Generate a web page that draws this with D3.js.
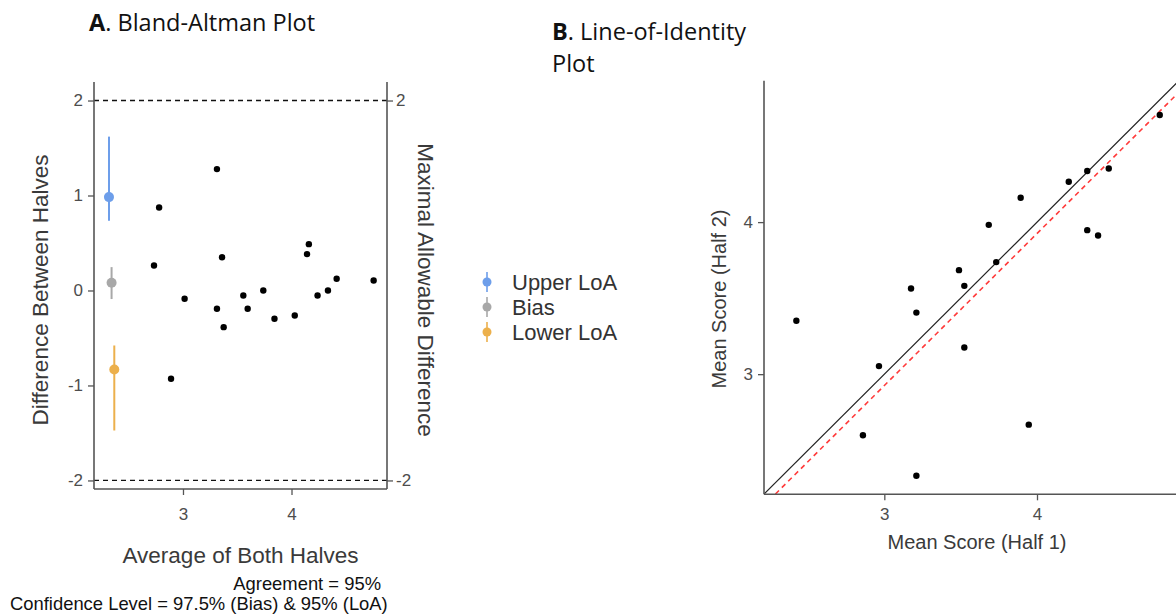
<!DOCTYPE html>
<html>
<head>
<meta charset="utf-8">
<script src="https://cdn.jsdelivr.net/npm/d3@7"></script>
<style>
  body { margin: 0; background: #fff; }
  text { font-family: "Liberation Sans", Arial, sans-serif; }
  .panel-title { font-family: "Open Sans", "Liberation Sans", sans-serif; font-size: 23.5px; fill: #111; }
  .axis-title { font-size: 22.5px; fill: #3a3a3a; }
</style>
</head>
<body>
<div id="chart"></div>
<script>
// ---- data ----
// A. Bland-Altman: average of both halves / difference (half1 - half2)
var baAvg  = [2.733, 2.78, 3.313, 3.36, 4.143, 4.16, 4.416, 4.757, 4.336, 3.74,
              3.015, 3.313, 3.375, 3.556, 3.596, 3.843, 4.03, 4.24, 2.89];
var baDiff = [0.263, 0.874, 1.278, 0.35, 0.383, 0.488, 0.123, 0.105, 0.0, 0.0,
              -0.087, -0.193, -0.386, -0.052, -0.193, -0.298, -0.263, -0.052, -0.93];

// limits of agreement with their confidence intervals
var loaLabels = ["Upper LoA", "Bias", "Lower LoA"];
var loaX      = [2.318, 2.342, 2.367];
var loaEst    = [0.983, 0.081, -0.832];
var loaLow    = [0.734, -0.09, -1.474];
var loaHigh   = [1.62, 0.246, -0.579];
var loaColors = ["#6d9eea", "#a8a8a8", "#ecb04c"];
var maxAllowable = [2, -2];

// B. line of identity: mean score half 1 / half 2
var half1 = [4.804, 4.329, 4.47, 4.208, 3.893, 3.684, 4.329, 4.4, 3.733, 3.489,
             3.175, 3.524, 2.424, 3.21, 3.524, 2.965, 3.946, 2.86, 3.21];
var half2 = [4.704, 4.336, 4.353, 4.265, 4.16, 3.982, 3.947, 3.912, 3.737, 3.684,
             3.563, 3.581, 3.351, 3.405, 3.175, 3.053, 2.668, 2.598, 2.332];
var biasShift = 0.075;

var baXTicks = [3, 4];
var baYTicks = [-2, -1, 0, 1, 2];
var idTicks = [3, 4];

var width = 1176, height = 615;
var axisColor = "#555";
var fmt = d => String(d);   // plain hyphen minus like the original

var svg = d3.select("#chart").append("svg")
    .attr("width", width)
    .attr("height", height);

function styleAxis(g) {
    g.attr("font-size", null).attr("font-family", null);
    g.select(".domain").attr("stroke", axisColor).attr("stroke-width", 1.6);
    g.selectAll(".tick line").attr("stroke", axisColor).attr("stroke-width", 1.3);
    g.selectAll(".tick text")
        .attr("fill", "#4d4d4d")
        .style("font-size", "17px")
        .style("font-family", "'Liberation Sans', Arial, sans-serif");
}

// ---------------- Panel A ----------------
var ax = d3.scaleLinear().domain([2.18, 4.88]).range([94, 387]);
var ay = d3.scaleLinear().domain([-2.09, 2.195]).range([489, 82]);

svg.append("text").attr("class", "panel-title")
    .attr("x", 89).attr("y", 31)
    .html('<tspan font-weight="bold">A</tspan>. Bland-Altman Plot');

var gA = svg.append("g");

// maximal allowable difference lines
gA.selectAll("line.mad")
    .data(maxAllowable)
    .enter().append("line")
    .attr("class", "mad")
    .attr("x1", ax.range()[0]).attr("x2", ax.range()[1])
    .attr("y1", d => ay(d)).attr("y2", d => ay(d))
    .attr("stroke", "#111").attr("stroke-width", 1.3)
    .attr("stroke-dasharray", "5,4");

// axes
var leftAxisA = gA.append("g")
    .attr("transform", "translate(94,0)")
    .call(d3.axisLeft(ay).tickValues(baYTicks).tickFormat(fmt).tickSize(6).tickPadding(5));
var rightAxisA = gA.append("g")
    .attr("transform", "translate(387,0)")
    .call(d3.axisRight(ay).tickValues(maxAllowable).tickFormat(fmt).tickSize(6).tickPadding(3));
var bottomAxisA = gA.append("g")
    .attr("transform", "translate(0,489)")
    .call(d3.axisBottom(ax).tickValues(baXTicks).tickFormat(fmt).tickSize(6).tickPadding(13));

[leftAxisA, rightAxisA, bottomAxisA].forEach(styleAxis);
leftAxisA.select(".domain").attr("d", "M0,489V82");
rightAxisA.select(".domain").attr("d", "M0,489V82");
bottomAxisA.select(".domain").attr("d", "M94,0H387");

// LoA point ranges
var loa = loaLabels.map((l, i) => ({label: l, x: loaX[i], est: loaEst[i], lo: loaLow[i], hi: loaHigh[i], color: loaColors[i]}));

gA.selectAll("line.ci")
    .data(loa)
    .enter().append("line")
    .attr("class", "ci")
    .attr("x1", d => ax(d.x)).attr("x2", d => ax(d.x))
    .attr("y1", d => ay(d.lo)).attr("y2", d => ay(d.hi))
    .attr("stroke", d => d.color).attr("stroke-width", 2);

gA.selectAll("circle.est")
    .data(loa)
    .enter().append("circle")
    .attr("class", "est")
    .attr("cx", d => ax(d.x)).attr("cy", d => ay(d.est))
    .attr("r", 5)
    .attr("fill", d => d.color);

// scatter
gA.selectAll("circle.pt")
    .data(baAvg.map((a, i) => [a, baDiff[i]]))
    .enter().append("circle")
    .attr("class", "pt")
    .attr("cx", d => ax(d[0])).attr("cy", d => ay(d[1]))
    .attr("r", 3.2).attr("fill", "#000");

// axis titles
svg.append("text").attr("class", "axis-title")
    .attr("text-anchor", "middle")
    .attr("transform", "translate(48,290) rotate(-90)")
    .text("Difference Between Halves");
svg.append("text").attr("class", "axis-title")
    .attr("text-anchor", "middle")
    .attr("transform", "translate(418,290) rotate(90)")
    .text("Maximal Allowable Difference");
svg.append("text").attr("class", "axis-title")
    .attr("text-anchor", "middle")
    .attr("x", 240.5).attr("y", 563)
    .text("Average of Both Halves");

svg.append("text")
    .attr("text-anchor", "end")
    .attr("x", 381).attr("y", 590)
    .attr("font-size", 18.4).attr("fill", "#111")
    .text("Agreement = 95%");
svg.append("text")
    .attr("text-anchor", "start")
    .attr("x", 10).attr("y", 610)
    .attr("font-size", 18.4).attr("fill", "#111")
    .text("Confidence Level = 97.5% (Bias) & 95% (LoA)");

// legend
var legend = svg.append("g").attr("transform", "translate(487,282)");
var legItem = legend.selectAll("g")
    .data(loa)
    .enter().append("g")
    .attr("transform", (d, i) => `translate(0,${i * 25})`);
legItem.append("line")
    .attr("y1", -10).attr("y2", 10)
    .attr("stroke", d => d.color).attr("stroke-width", 1.6);
legItem.append("circle")
    .attr("r", 4.5).attr("fill", d => d.color);
legItem.append("text")
    .attr("x", 25).attr("dy", "0.35em")
    .attr("font-size", 22).attr("fill", "#333")
    .text(d => d.label);

// ---------------- Panel B ----------------
var bx = d3.scaleLinear().domain([2.212, 4.93]).range([764, 1179]);
var by = d3.scaleLinear().domain([2.21, 4.93]).range([494.3, 80.7]);

svg.append("text").attr("class", "panel-title")
    .attr("x", 552).attr("y", 40)
    .html('<tspan font-weight="bold">B</tspan>. Line-of-Identity');
svg.append("text").attr("class", "panel-title")
    .attr("x", 552).attr("y", 72)
    .text("Plot");

svg.append("clipPath").attr("id", "clipB")
    .append("rect")
    .attr("x", 764).attr("y", 80.7)
    .attr("width", 415).attr("height", 413.6);

var gB = svg.append("g");
var lines = gB.append("g").attr("clip-path", "url(#clipB)");

lines.append("line")
    .attr("x1", bx(2.212)).attr("y1", by(2.212))
    .attr("x2", bx(4.93)).attr("y2", by(4.93))
    .attr("stroke", "#222").attr("stroke-width", 1.2);
lines.append("line")
    .attr("x1", bx(2.212 + biasShift)).attr("y1", by(2.212))
    .attr("x2", bx(4.93)).attr("y2", by(4.93 - biasShift))
    .attr("stroke", "#ff3b3b").attr("stroke-width", 1.6)
    .attr("stroke-dasharray", "5,4");

var leftAxisB = gB.append("g")
    .attr("transform", "translate(764,0)")
    .call(d3.axisLeft(by).tickValues(idTicks).tickFormat(fmt).tickSize(6).tickPadding(5));
var bottomAxisB = gB.append("g")
    .attr("transform", "translate(0,494.3)")
    .call(d3.axisBottom(bx).tickValues(idTicks).tickFormat(fmt).tickSize(6).tickPadding(8));
[leftAxisB, bottomAxisB].forEach(styleAxis);
leftAxisB.select(".domain").attr("d", "M0,494.3V80.7");
bottomAxisB.select(".domain").attr("d", "M764,0H1179");

gB.selectAll("circle.pt")
    .data(half1.map((h, i) => [h, half2[i]]))
    .enter().append("circle")
    .attr("class", "pt")
    .attr("cx", d => bx(d[0])).attr("cy", d => by(d[1]))
    .attr("r", 3.2).attr("fill", "#000");

svg.append("text").attr("class", "axis-title")
    .attr("text-anchor", "middle")
    .attr("transform", "translate(726,299) rotate(-90)")
    .style("font-size", "20px")
    .text("Mean Score (Half 2)");
svg.append("text").attr("class", "axis-title")
    .attr("text-anchor", "middle")
    .attr("x", 977).attr("y", 549)
    .style("font-size", "20px")
    .text("Mean Score (Half 1)");
</script>
</body>
</html>
